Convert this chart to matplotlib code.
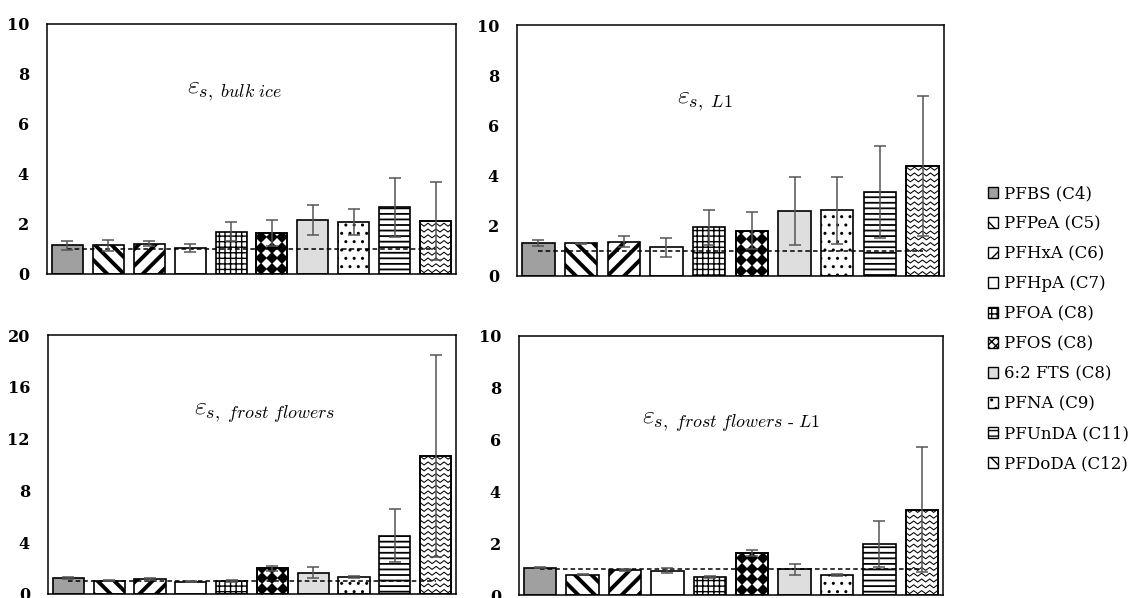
import numpy as np
import matplotlib.pyplot as plt
from matplotlib.lines import Line2D
from matplotlib.patches import Patch, Rectangle

plt.rcParams['font.family'] = 'DejaVu Serif'
plt.rcParams['mathtext.fontset'] = 'cm'

compounds = ['PFBS (C4)', 'PFPeA (C5)', 'PFHxA (C6)', 'PFHpA (C7)', 'PFOA (C8)',
             'PFOS (C8)', '6:2 FTS (C8)', 'PFNA (C9)', 'PFUnDA (C11)', 'PFDoDA (C12)']

# enrichment factors and their uncertainties
bulk_ice = [1.14, 1.14, 1.20, 1.04, 1.69, 1.64, 2.17, 2.08, 2.66, 2.13]
bulk_ice_err = [0.17, 0.22, 0.10, 0.16, 0.37, 0.53, 0.60, 0.52, 1.19, 1.56]

layer1 = [1.30, 1.30, 1.36, 1.14, 1.94, 1.80, 2.59, 2.61, 3.35, 4.39]
layer1_err = [0.12, 0.03, 0.22, 0.38, 0.70, 0.74, 1.36, 1.34, 1.84, 2.79]

frost = [1.24, 1.03, 1.16, 0.95, 1.03, 1.99, 1.63, 1.34, 4.49, 10.66]
frost_err = [0.10, 0.03, 0.08, 0.05, 0.08, 0.18, 0.43, 0.08, 2.05, 7.80]

frost_l1 = [1.06, 0.79, 0.95, 0.94, 0.68, 1.62, 0.99, 0.79, 1.98, 3.29]
frost_l1_err = [0.03, 0.03, 0.04, 0.10, 0.04, 0.10, 0.21, 0.04, 0.89, 2.41]

reference_level = 1.0

# fill, hatch, hatch line width, extra pattern
styles = [
    ('#a0a0a0', None, 1.0, None),
    ('white', '\\\\', 2.8, None),
    ('white', '//', 2.8, None),
    ('white', None, 1.0, None),
    ('white', '+++', 1.0, None),
    ('white', None, 1.0, 'diamonds'),
    ('#dedede', None, 1.0, None),
    ('white', '..', 1.0, None),
    ('white', '---', 1.3, None),
    ('white', None, 1.0, 'zigzag'),
]

W, H = 1135, 598
fig = plt.figure(figsize=(W / 100, H / 100), dpi=100)


def add_panel(left, top, right, bottom):
    return fig.add_axes([left / W, 1 - bottom / H, (right - left) / W, (bottom - top) / H])


def data_per_px(ax):
    x0, x1 = ax.get_xlim()
    y0, y1 = ax.get_ylim()
    return (x1 - x0) / ax.bbox.width, (y1 - y0) / ax.bbox.height


def add_diamonds(ax, bar):
    dx, dy = data_per_px(ax)
    step = 10.5
    cx = bar.get_x() + bar.get_width() / 2
    nrows = int(bar.get_height() / (step * dy)) + 2
    xs = cx + np.arange(-2, 3) * step * dx
    ys = bar.get_y() + (np.arange(nrows) + 0.5) * step * dy
    X, Y = np.meshgrid(xs, ys)
    pts, = ax.plot(X.ravel(), Y.ravel(), 'D', color='black', ms=6.0, mew=0,
                   ls='none', zorder=2.1)
    pts.set_clip_path(bar)


def add_zigzag(ax, bar):
    dx, dy = data_per_px(ax)
    gap, half, amp = 5.8, 4.0, 1.5
    w_px = bar.get_width() / dx
    h_px = bar.get_height() / dy
    xs_px = np.arange(-half, w_px + 2 * half, half)
    offs = np.where(np.arange(len(xs_px)) % 2 == 0, -amp, amp)
    for row in np.arange(gap / 2, h_px + gap, gap):
        ln = Line2D(bar.get_x() + xs_px * dx, bar.get_y() + (row + offs) * dy,
                    color='black', lw=0.75, zorder=2.1)
        ax.add_line(ln)
        ln.set_clip_path(bar)


def draw_panel(ax, values, errors, ymax, ystep, label, lx, ly):
    x = np.arange(len(values))
    ax.set_xlim(-0.5, len(values) - 0.5)
    ax.set_ylim(0, ymax)
    for i, (fc, hatch, hlw, extra) in enumerate(styles):
        with plt.rc_context({'hatch.linewidth': hlw}):
            bars = ax.bar(x[i], values[i], width=0.76, color=fc, edgecolor='black',
                          linewidth=1.2, hatch=hatch, zorder=2)
        bar = bars[0]
        if extra == 'diamonds':
            add_diamonds(ax, bar)
        elif extra == 'zigzag':
            add_zigzag(ax, bar)
        if extra:
            ax.add_patch(Rectangle((bar.get_x(), bar.get_y()), bar.get_width(), bar.get_height(),
                                   fill=False, edgecolor='black', linewidth=1.2, zorder=2.2))
    ax.errorbar(x, values, yerr=errors, fmt='none', ecolor='#555555', elinewidth=1.1,
                capsize=4, capthick=1.1, zorder=4)
    ax.plot([x[0], x[-1]], [reference_level, reference_level], color='black', lw=1.1,
            ls=(0, (3, 2)), zorder=3)
    ax.set_yticks(np.arange(0, ymax + 0.1, ystep))
    ax.set_xticks([])
    ax.tick_params(axis='y', length=0, pad=13, labelsize=11.5)
    for t in ax.get_yticklabels():
        t.set_fontweight('bold')
    for s in ax.spines.values():
        s.set_linewidth(1.1)
    ax.text(lx, ly, label, transform=ax.transAxes, ha='center', va='center', fontsize=18.5)


ax1 = add_panel(47, 24, 456, 274)
ax2 = add_panel(517, 25, 944, 276)
ax3 = add_panel(48, 335, 456, 594)
ax4 = add_panel(519, 336, 943, 595)

draw_panel(ax1, bulk_ice, bulk_ice_err, 10, 2, r'$\varepsilon_{s,\ bulk\ ice}$', 0.46, 0.735)
draw_panel(ax2, layer1, layer1_err, 10, 2, r'$\varepsilon_{s,\ L1}$', 0.44, 0.70)
draw_panel(ax3, frost, frost_err, 20, 4, r'$\varepsilon_{s,\ frost\ flowers}$', 0.53, 0.70)
draw_panel(ax4, frost_l1, frost_l1_err, 10, 2, r'$\varepsilon_{s,\ frost\ flowers\ \text{-}\ L1}$', 0.50, 0.67)

# legend swatches
legend_hatch = {'diamonds': 'xxxx', 'zigzag': 'x'}
handles = []
for fc, hatch, hlw, extra in styles:
    h = hatch if extra is None else legend_hatch[extra]
    with plt.rc_context({'hatch.linewidth': hlw if extra is None else 1.0}):
        handles.append(Patch(facecolor=fc, edgecolor='black', linewidth=1.0, hatch=h))

fig.legend(handles, compounds, loc='center left', bbox_to_anchor=(988 / W, 1 - 329 / H),
           frameon=False, fontsize=12, handlelength=0.62, handleheight=0.62,
           handletextpad=0.35, labelspacing=0.78, borderpad=0, borderaxespad=0)

fig.savefig('out.png', dpi=100)
